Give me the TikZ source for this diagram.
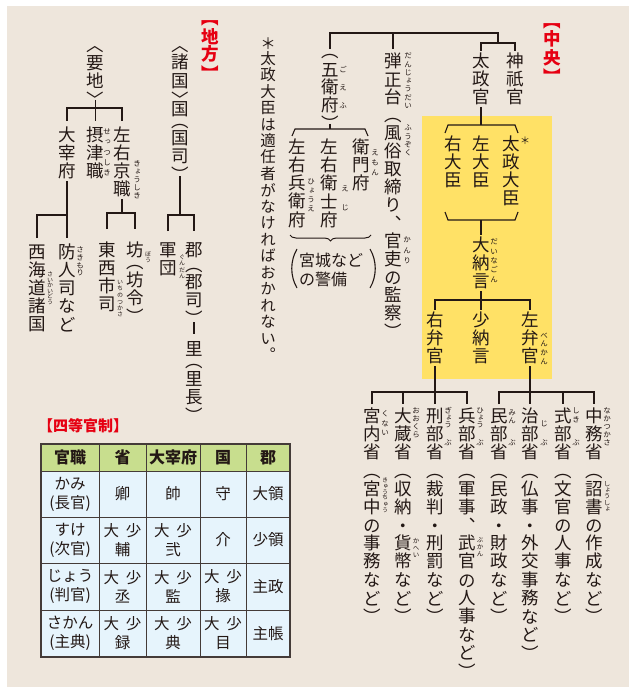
\documentclass[tikz,border=0pt]{standalone}
\usepackage{fontspec}
\usetikzlibrary{decorations.pathreplacing}
\newfontfamily\jp[RawFeature={+vert}]{Noto Sans CJK JP}
\newfontfamily\jph{Noto Sans CJK JP}
\definecolor{bgc}{HTML}{EEE6DC}
\definecolor{yel}{HTML}{FFE166}
\definecolor{ink}{HTML}{231815}
\definecolor{redc}{HTML}{E60012}
\definecolor{thead}{HTML}{C8DE8E}
\definecolor{tbody}{HTML}{E6F4FC}
\ExplSyntaxOn
\dim_new:N \l_vt_pitch_dim
\tl_new:N \l_vt_frac_tl
\cs_new_protected:Npn \vt_box:nnn #1#2#3
 {
  \hbox_to_wd:nn {1em}
   {
    \hss
    \vbox_to_ht:nn {#2} { \vss \hbox:n {#1} \skip_vertical:n {#3} }
    \hss
   }
 }
\cs_new_protected:Npn \vt_open:n #1
 { \vt_box:nnn {#1} { \l_vt_frac_tl \l_vt_pitch_dim } { 0.12em } }
\cs_new_protected:Npn \vt_close:n #1
 { \vt_box:nnn {#1} { \l_vt_frac_tl \l_vt_pitch_dim } { \l_vt_frac_tl \l_vt_pitch_dim - 0.88em } }
\cs_new_protected:Npn \vt_cell:n #1
 {
  \str_case:nnF {#1}
   {
    {︵} { \vt_open:n {#1} }
    {︿} { \vt_open:n {#1} }
    {︶} { \vt_close:n {#1} }
    {﹀} { \vt_close:n {#1} }
   }
   { \vt_box:nnn {#1} { \l_vt_pitch_dim } { (\l_vt_pitch_dim - 1em) / 2 + 0.12em } }
 }
\NewDocumentCommand \VT { O{1} m m }
 {
  \dim_set:Nn \l_vt_pitch_dim {#2}
  \tl_set:Nn \l_vt_frac_tl {#1}
  \vbox:n { \offinterlineskip \tl_map_inline:nn {#3} { \vt_cell:n {##1} } }
 }
\ExplSyntaxOff
\newcommand\ds{大\hspace{0.45em}少}
\begin{document}
\begin{tikzpicture}[x=1pt,y=-1pt,
  vt/.style={inner sep=0pt,outer sep=0pt,anchor=north,text=ink,font=\jp\fontsize{17.5}{18}\selectfont},
  vtred/.style={vt,text=redc,font=\jp\bfseries\fontsize{17.5}{18}\selectfont},
  rb/.style={inner sep=0pt,outer sep=0pt,anchor=north,text=ink,font=\jp\fontsize{7.5}{8}\selectfont},
  rbs/.style={rb,font=\jp\fontsize{6}{6}\selectfont},
  ln/.style={draw=ink,line width=1.1pt},
  tline/.style={draw=ink!85,line width=1pt},
  tc/.style={inner sep=0pt,text=ink,align=center,font=\jph\fontsize{15.5}{19}\selectfont},
  th/.style={tc,font=\jph\bfseries\fontsize{16}{16}\selectfont}]
\useasboundingbox (0,0) rectangle (629,695);
\fill[white] (0,0) rectangle (629,695);
\fill[bgc] (7,6) rectangle (629,687);
\fill[yel] (422,116) rectangle (552,379);

% ---------- central ----------
\node[vtred] (chuo) at (552,14) {\VT{18pt}{︻中央︼}};
\node[vt] (jingi) at (515,53) {\VT{18pt}{神祇官}};
\node[vt] (dajokan) at (481,53) {\VT{18pt}{太政官}};
\node[vt] (goefu) at (330,43) {\VT{18pt}{︵五衛府︶}};
\node[vt] (danjo) at (393,53) {\VT{18pt}{弾正台︵風俗取締り︑官吏の監察︶}};
\node[vt] (udaijin) at (453,136) {\VT{18pt}{右大臣}};
\node[vt] (sadaijin) at (481,136) {\VT{18pt}{左大臣}};
\node[vt] (dajodaijin) at (511,136) {\VT{18pt}{太政大臣}};
\node[inner sep=0pt,text=ink,font=\jph\fontsize{10}{10}\selectfont] (star) at (525,141) {＊};
\node[vt] (dainagon) at (481,237) {\VT{18pt}{大納言}};
\node[vt] (uben) at (435,312) {\VT{18pt}{右弁官}};
\node[vt] (shonagon) at (481,312) {\VT{18pt}{少納言}};
\node[vt] (saben) at (530,312) {\VT{18pt}{左弁官}};

\node[vt] (kunai) at (372,408) {\VT{18.2pt}{宮内省︵宮中の事務など︶}};
\node[vt] (okura) at (403,408) {\VT{18.2pt}{大蔵省︵収納・貨幣など︶}};
\node[vt] (gyobu) at (435,408) {\VT{18.2pt}{刑部省︵裁判・刑罰など︶}};
\node[vt] (hyobu) at (467,408) {\VT{18.2pt}{兵部省︵軍事︑武官の人事など︶}};
\node[vt] (minbu) at (499,408) {\VT{18.2pt}{民部省︵民政・財政など︶}};
\node[vt] (jibu) at (530,408) {\VT{18.2pt}{治部省︵仏事・外交事務など︶}};
\node[vt] (shikibu) at (563,408) {\VT{18.2pt}{式部省︵文官の人事など︶}};
\node[vt] (nakatsu) at (594,408) {\VT{18.2pt}{中務省︵詔書の作成など︶}};

\node[vt] (emon) at (361,139) {\VT{18.2pt}{衛門府}};
\node[vt] (eji) at (329,139) {\VT{18.2pt}{左右衛士府}};
\node[vt] (hyoe) at (297,139) {\VT{18.2pt}{左右兵衛府}};
\node[inner sep=0pt,anchor=west,text=ink,font=\jph\fontsize{16}{16}\selectfont] (keibi1) at (299,260) {宮城など};
\node[inner sep=0pt,anchor=west,text=ink,font=\jph\fontsize{16}{16}\selectfont] (keibi2) at (299,279) {の警備};

% ruby central
\node[rb] (r1) at (343,61) {\VT{18pt}{ごえふ}};
\node[rb] (r2) at (408,52) {\VT{8.3pt}{だんじょうだい}};
\node[rb] (r3) at (408,124) {\VT{8.3pt}{ふうぞく}};
\node[rb] (r4) at (407,235) {\VT{10.5pt}{かんり}};
\node[rb] (r5) at (375,148) {\VT{10pt}{えもん}};
\node[rb] (r6) at (311,177) {\VT{9pt}{ひょうえ}};
\node[rb] (r7) at (345,179) {\VT{19.5pt}{えじ}};
\node[rb] (r8) at (494,237) {\VT{9.5pt}{だいなごん}};
\node[rb] (r9) at (544,331) {\VT{8.8pt}{べんかん}};
\node[rb] (r10) at (607,407) {\VT{8pt}{なかつかさ}};
\node[rb,font=\jp\fontsize{6.5}{6.5}\selectfont] (r11) at (607,481) {\VT{6.3pt}{しょうしょ}};
\node[rb] (r12) at (576,407) {\VT{8.5pt}{しき}};
\node[rb] (r13) at (576,439) {\VT{8pt}{ぶ}};
\node[rb] (r14) at (544,420) {\VT{8pt}{じ}};
\node[rb] (r15) at (544,439) {\VT{8pt}{ぶ}};
\node[rb] (r16) at (512,410) {\VT{7pt}{みん}};
\node[rb] (r17) at (512,439) {\VT{8pt}{ぶ}};
\node[rb] (r18) at (480,407) {\VT{7pt}{ひょう}};
\node[rb] (r19) at (480,439) {\VT{8pt}{ぶ}};
\node[rb] (r20) at (448,407) {\VT{7pt}{ぎょう}};
\node[rb] (r21) at (448,439) {\VT{8pt}{ぶ}};
\node[rb] (r22) at (416,407) {\VT{8pt}{おおくら}};
\node[rb] (r23) at (385,410) {\VT{9pt}{くない}};
\node[rb,font=\jp\fontsize{6.5}{6.5}\selectfont] (r24) at (480,537) {\VT{6.8pt}{ぶかん}};
\node[rb,font=\jp\fontsize{6.5}{6.5}\selectfont] (r25) at (416,538) {\VT{6.8pt}{かへい}};
\node[rbs] (r26) at (385,477) {\VT{6pt}{きゅうちゅう}};

% ---------- left ----------
\node[vtred] (chiho) at (210,11) {\VT{18pt}{︻地方︼}};
\node[vt,font=\jp\fontsize{15.5}{16}\selectfont] (note) at (268,35) {\VT{16.4pt}{＊太政大臣は適任者がなければおかれない︒}};
\node[vt] (shokoku) at (180,44) {\VT[0.6]{18pt}{︿諸国﹀国︵国司︶}};
\node[vt] (gundan) at (168,242) {\VT{18pt}{軍団}};
\node[vt] (gun) at (194,242) {\VT[0.8]{18pt}{郡︵郡司︶}};
\node[vt] (sato) at (194,341) {\VT[0.67]{18pt}{里︵里長︶}};
\node[vt] (yochi) at (95.5,44) {\VT[0.6]{18pt}{︿要地﹀}};
\node[vt] (dazaifu) at (67,127) {\VT{18pt}{大宰府}};
\node[vt] (settsu) at (95.5,127) {\VT{18pt}{摂津職}};
\node[vt] (sakyo) at (122,127) {\VT{18pt}{左右京職}};
\node[vt] (tozai) at (107,242) {\VT{18pt}{東西市司}};
\node[vt] (bo) at (135,242) {\VT[0.67]{18pt}{坊︵坊令︶}};
\node[vt] (saikai) at (37,244) {\VT{18pt}{西海道諸国}};
\node[vt] (sakimori) at (67,244) {\VT{18pt}{防人司など}};

\node[rb] (r30) at (107,126) {\VT{10.5pt}{せっつしき}};
\node[rb] (r31) at (137,160) {\VT{8pt}{きょうしき}};
\node[rbs] (r32) at (120,279) {\VT{6.5pt}{いちのつかさ}};
\node[rbs] (r33) at (148,251) {\VT{6.5pt}{ぼう}};
\node[rbs] (r34) at (182,254) {\VT{6.5pt}{ぐんだん}};
\node[rbs] (r35) at (50,272) {\VT{5.5pt}{さいかいどう}};
\node[rb] (r36) at (80,246) {\VT{7.8pt}{さきもり}};

% ---------- connectors ----------
\coordinate (ctop) at (498,33);
\coordinate (cbr) at (498,43);
\draw[ln] (goefu.north |- 0,49) -- (goefu.north |- ctop) -- (ctop) -- (cbr);
\draw[ln] (danjo.north |- 0,49) -- (danjo.north |- ctop);
\draw[ln] (dajokan.north |- 0,51) -- (dajokan.north |- cbr) -- (jingi.north |- cbr) -- (jingi.north |- 0,51);
\draw[ln] (dajokan.south) -- (dajokan.south |- 0,125);
\draw[ln] (445,133) -- (448,125) -- (515,125) -- (518,133);
\draw[ln] (445,212) -- (448,220) -- (515,220) -- (518,212);
\draw[ln] (sadaijin.south |- 0,220) -- (dainagon.north |- 0,235);
\coordinate (bj) at (481,300);
\draw[ln] (dainagon.south) -- (bj);
\draw[ln] (uben.north |- 0,310) -- (uben.north |- bj) -- (saben.north |- bj) -- (saben.north |- 0,310);
\draw[ln] (bj) -- (shonagon.north |- 0,310);
\coordinate (lj) at (435,392);
\coordinate (rj) at (530,392);
\draw[ln] (uben.south) -- (gyobu.north |- 0,404);
\draw[ln] (kunai.north |- 0,404) -- (kunai.north |- lj) -- (hyobu.north |- lj) -- (hyobu.north |- 0,404);
\draw[ln] (okura.north |- lj) -- (okura.north |- 0,404);
\draw[ln] (saben.south) -- (jibu.north |- 0,404);
\draw[ln] (minbu.north |- 0,404) -- (minbu.north |- rj) -- (nakatsu.north |- rj) -- (nakatsu.north |- 0,404);
\draw[ln] (shikibu.north |- rj) -- (shikibu.north |- 0,404);
\draw[ln] (goefu.south |- 0,124) -- (goefu.south |- 0,129);
\draw[ln] (292,136) -- (295,129) -- (365,129) -- (368,136);
\draw[ln,line width=1pt,decorate,decoration={brace,mirror,amplitude=6pt}] (290,235) -- (371,235);
\draw[ln] (297,249) .. controls (290,261) and (290,276) .. (297,288);
\draw[ln] (370,249) .. controls (377,261) and (377,276) .. (370,288);

\draw[ln] (shokoku.south |- 0,176) -- (shokoku.south |- 0,215);
\draw[ln] (gundan.north |- 0,231) -- (gundan.north |- 0,215) -- (gun.north |- 0,215) -- (gun.north |- 0,231);
\draw[ln] (gun.south |- 0,322) -- (sato.north |- 0,334);
\draw[ln] (yochi.south |- 0,100) -- (yochi.south |- 0,108);
\draw[ln] (dazaifu.north |- 0,121) -- (dazaifu.north |- 0,108) -- (sakyo.north |- 0,108) -- (sakyo.north |- 0,121);
\draw[ln] (settsu.north |- 0,108) -- (settsu.north |- 0,121);
\draw[ln] (sakyo.south) -- (sakyo.south |- 0,213);
\draw[ln] (tozai.north |- 0,229) -- (tozai.north |- 0,213) -- (bo.north |- 0,213) -- (bo.north |- 0,229);
\draw[ln] (dazaifu.south) -- (sakimori.north |- 0,238);
\draw[ln] (saikai.north |- 0,238) -- (saikai.north |- 0,215) -- (dazaifu.south |- 0,215);

% ---------- table ----------
\node[anchor=west,inner sep=0pt,text=redc,font=\jph\bfseries\fontsize{15}{15}\selectfont] (shito) at (38,426) {【四等官制】};
\fill[thead] (41,444) rectangle (290,471);
\fill[tbody] (41,471) rectangle (290,657);
\foreach \x in {99,146,200,246} \draw[tline] (\x,444) -- (\x,657);
\foreach \y in {471,517,563,610} \draw[tline] (41,\y) -- (290,\y);
\draw[tline,line width=1.3pt] (41,444) rectangle (290,657);

\node[th] (h1) at (70,457.5) {官職};
\node[th] (h2) at (122.5,457.5) {省};
\node[th] (h3) at (173,457.5) {大宰府};
\node[th] (h4) at (223,457.5) {国};
\node[th] (h5) at (268,457.5) {郡};

\node[tc] (a1) at (70,494) {かみ\\(長官)};
\node[tc] (a2) at (122.5,494) {卿};
\node[tc] (a3) at (173,494) {帥};
\node[tc] (a4) at (223,494) {守};
\node[tc] (a5) at (268,494) {大領};

\node[tc] (b1) at (70,540) {すけ\\(次官)};
\node[tc] (b2) at (122.5,540) {\ds\\輔};
\node[tc] (b3) at (173,540) {\ds\\弐};
\node[tc] (b4) at (223,540) {介};
\node[tc] (b5) at (268,540) {少領};

\node[tc] (c1) at (70,586.5) {じょう\\(判官)};
\node[tc] (c2) at (122.5,586.5) {\ds\\丞};
\node[tc] (c3) at (173,586.5) {\ds\\監};
\node[tc] (c4) at (223,586.5) {\ds\\掾};
\node[tc] (c5) at (268,586.5) {主政};

\node[tc] (d1) at (70,633.5) {さかん\\(主典)};
\node[tc] (d2) at (122.5,633.5) {\ds\\録};
\node[tc] (d3) at (173,633.5) {\ds\\典};
\node[tc] (d4) at (223,633.5) {\ds\\目};
\node[tc] (d5) at (268,633.5) {主帳};
\end{tikzpicture}
\end{document}
